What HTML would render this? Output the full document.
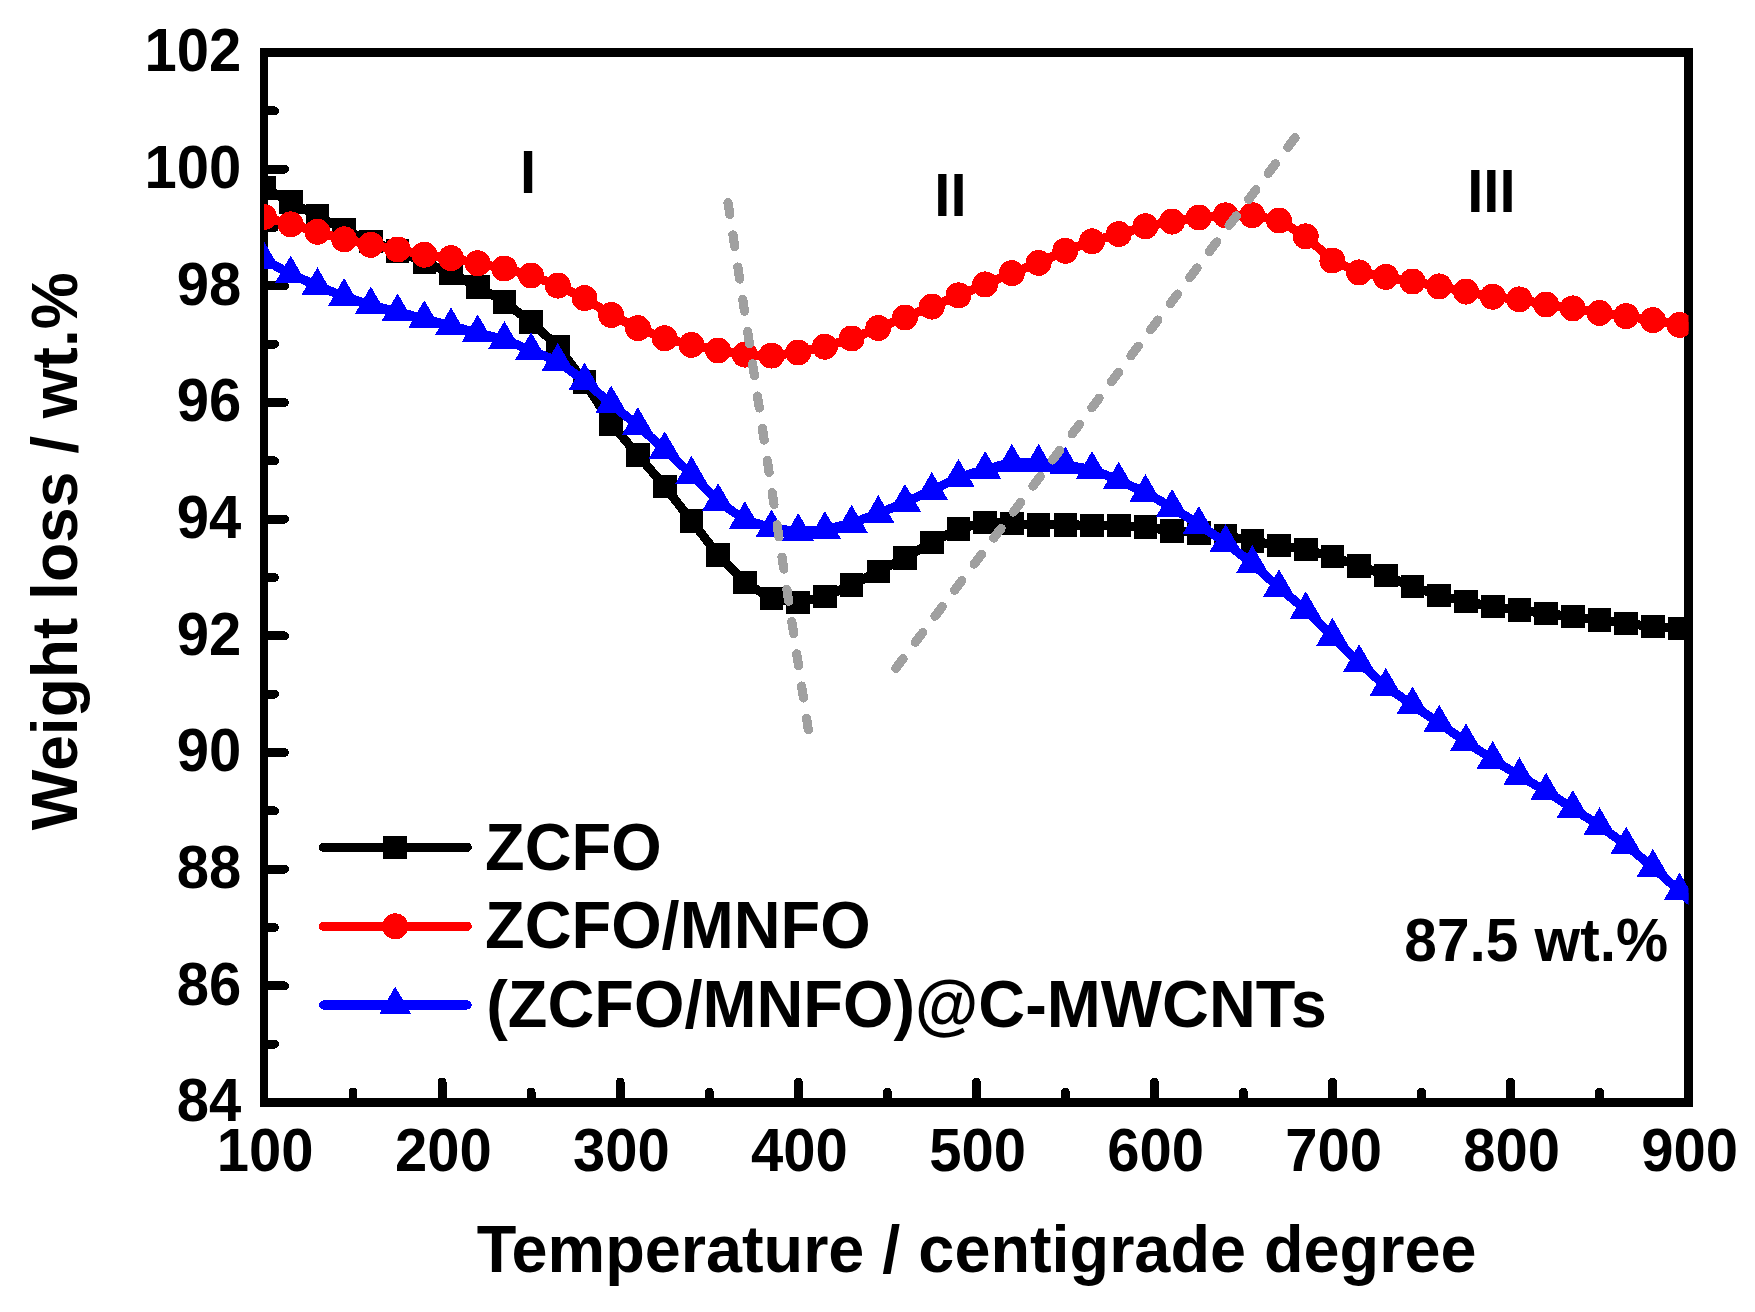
<!DOCTYPE html>
<html lang="en"><head><meta charset="utf-8"><title>TGA curves</title>
<style>html,body{margin:0;padding:0;background:#fff}body{width:1755px;height:1312px;overflow:hidden}svg{display:block}text{font-family:"Liberation Sans",sans-serif;font-weight:700;fill:#000}</style>
</head><body>
<svg shape-rendering="crispEdges" width="1755" height="1312" viewBox="0 0 1755 1312">
<rect width="1755" height="1312" fill="#fff"/>
<defs><clipPath id="pc"><rect x="264.0" y="52.5" width="1424.5" height="1050.0"/></clipPath></defs>
<rect x="264.0" y="52.5" width="1424.5" height="1050.0" fill="none" stroke="#000" stroke-width="8.6" stroke-linejoin="miter"/>
<path d="M264.0,52.50h20.5M264.0,110.83h10.5M264.0,169.17h20.5M264.0,227.50h10.5M264.0,285.83h20.5M264.0,344.17h10.5M264.0,402.50h20.5M264.0,460.83h10.5M264.0,519.17h20.5M264.0,577.50h10.5M264.0,635.83h20.5M264.0,694.17h10.5M264.0,752.50h20.5M264.0,810.83h10.5M264.0,869.17h20.5M264.0,927.50h10.5M264.0,985.83h20.5M264.0,1044.17h10.5M264.0,1102.50h20.5M264.00,1102.5v-20.5M353.03,1102.5v-10.5M442.06,1102.5v-20.5M531.09,1102.5v-10.5M620.12,1102.5v-20.5M709.16,1102.5v-10.5M798.19,1102.5v-20.5M887.22,1102.5v-10.5M976.25,1102.5v-20.5M1065.28,1102.5v-10.5M1154.31,1102.5v-20.5M1243.34,1102.5v-10.5M1332.38,1102.5v-20.5M1421.41,1102.5v-10.5M1510.44,1102.5v-20.5M1599.47,1102.5v-10.5M1688.50,1102.5v-20.5" stroke="#000" stroke-width="8.9" stroke-linecap="round" fill="none"/>
<g font-size="58" text-anchor="end">
<text transform="translate(241.2 71.2) scale(1 1.04)">102</text>
<text transform="translate(241.2 187.9) scale(1 1.04)">100</text>
<text transform="translate(241.2 304.5) scale(1 1.04)">98</text>
<text transform="translate(241.2 421.2) scale(1 1.04)">96</text>
<text transform="translate(241.2 537.9) scale(1 1.04)">94</text>
<text transform="translate(241.2 654.5) scale(1 1.04)">92</text>
<text transform="translate(241.2 771.2) scale(1 1.04)">90</text>
<text transform="translate(241.2 887.9) scale(1 1.04)">88</text>
<text transform="translate(241.2 1004.5) scale(1 1.04)">86</text>
<text transform="translate(241.2 1121.2) scale(1 1.04)">84</text>
</g>
<g font-size="58" text-anchor="middle">
<text transform="translate(265.2 1171) scale(1 1.04)">100</text>
<text transform="translate(443.3 1171) scale(1 1.04)">200</text>
<text transform="translate(621.3 1171) scale(1 1.04)">300</text>
<text transform="translate(799.4 1171) scale(1 1.04)">400</text>
<text transform="translate(977.5 1171) scale(1 1.04)">500</text>
<text transform="translate(1155.5 1171) scale(1 1.04)">600</text>
<text transform="translate(1333.6 1171) scale(1 1.04)">700</text>
<text transform="translate(1511.6 1171) scale(1 1.04)">800</text>
<text transform="translate(1689.7 1171) scale(1 1.04)">900</text>
</g>
<text transform="translate(976.6 1272) scale(1 1.02)" font-size="64.8" text-anchor="middle">Temperature / centigrade degree</text>
<text transform="translate(77 551.2) rotate(-90) scale(1 1.02)" font-size="64.1" text-anchor="middle">Weight loss / wt.%</text>
<g clip-path="url(#pc)">
<polyline points="264.0,187.8 290.7,202.2 317.4,215.6 344.1,230.0 370.8,241.3 397.6,250.8 424.3,261.9 451.0,273.2 477.7,286.8 504.4,302.0 531.1,322.0 557.8,346.3 584.5,381.7 611.2,423.8 637.9,455.0 664.7,486.4 691.4,520.7 718.1,554.9 744.8,582.4 771.5,598.5 798.2,602.6 824.9,596.4 851.6,585.1 878.3,571.5 905.0,557.7 931.8,542.5 958.5,528.7 985.2,522.5 1011.9,523.5 1038.6,525.0 1065.3,524.7 1092.0,525.4 1118.7,525.4 1145.4,527.0 1172.1,530.9 1198.8,532.8 1225.6,535.7 1252.3,540.8 1279.0,545.5 1305.7,549.6 1332.4,556.6 1359.1,565.7 1385.8,575.5 1412.5,586.6 1439.2,595.5 1466.0,601.5 1492.7,606.6 1519.4,610.1 1546.1,613.6 1572.8,616.5 1599.5,620.0 1626.2,623.5 1652.9,626.6 1679.6,628.4 1706.3,630.0" fill="none" stroke="#000" stroke-width="9.1" stroke-linejoin="round"/>
<path fill="#000" d="M252.2,176.0h23.6v23.6h-23.6zM278.9,190.4h23.6v23.6h-23.6zM305.6,203.8h23.6v23.6h-23.6zM332.3,218.2h23.6v23.6h-23.6zM359.0,229.5h23.6v23.6h-23.6zM385.8,239.0h23.6v23.6h-23.6zM412.5,250.1h23.6v23.6h-23.6zM439.2,261.4h23.6v23.6h-23.6zM465.9,275.0h23.6v23.6h-23.6zM492.6,290.2h23.6v23.6h-23.6zM519.3,310.2h23.6v23.6h-23.6zM546.0,334.5h23.6v23.6h-23.6zM572.7,369.9h23.6v23.6h-23.6zM599.4,412.0h23.6v23.6h-23.6zM626.1,443.2h23.6v23.6h-23.6zM652.9,474.6h23.6v23.6h-23.6zM679.6,508.9h23.6v23.6h-23.6zM706.3,543.1h23.6v23.6h-23.6zM733.0,570.6h23.6v23.6h-23.6zM759.7,586.7h23.6v23.6h-23.6zM786.4,590.8h23.6v23.6h-23.6zM813.1,584.6h23.6v23.6h-23.6zM839.8,573.3h23.6v23.6h-23.6zM866.5,559.7h23.6v23.6h-23.6zM893.2,545.9h23.6v23.6h-23.6zM920.0,530.7h23.6v23.6h-23.6zM946.7,516.9h23.6v23.6h-23.6zM973.4,510.7h23.6v23.6h-23.6zM1000.1,511.7h23.6v23.6h-23.6zM1026.8,513.2h23.6v23.6h-23.6zM1053.5,512.9h23.6v23.6h-23.6zM1080.2,513.6h23.6v23.6h-23.6zM1106.9,513.6h23.6v23.6h-23.6zM1133.6,515.2h23.6v23.6h-23.6zM1160.3,519.1h23.6v23.6h-23.6zM1187.0,521.0h23.6v23.6h-23.6zM1213.8,523.9h23.6v23.6h-23.6zM1240.5,529.0h23.6v23.6h-23.6zM1267.2,533.7h23.6v23.6h-23.6zM1293.9,537.8h23.6v23.6h-23.6zM1320.6,544.8h23.6v23.6h-23.6zM1347.3,553.9h23.6v23.6h-23.6zM1374.0,563.7h23.6v23.6h-23.6zM1400.7,574.8h23.6v23.6h-23.6zM1427.4,583.7h23.6v23.6h-23.6zM1454.2,589.7h23.6v23.6h-23.6zM1480.9,594.8h23.6v23.6h-23.6zM1507.6,598.3h23.6v23.6h-23.6zM1534.3,601.8h23.6v23.6h-23.6zM1561.0,604.7h23.6v23.6h-23.6zM1587.7,608.2h23.6v23.6h-23.6zM1614.4,611.7h23.6v23.6h-23.6zM1641.1,614.8h23.6v23.6h-23.6zM1667.8,616.6h23.6v23.6h-23.6zM1694.5,618.2h23.6v23.6h-23.6z"/>
<polyline points="264.0,217.0 290.7,224.4 317.4,231.8 344.1,239.3 370.8,244.8 397.6,249.5 424.3,254.7 451.0,258.2 477.7,263.3 504.4,268.5 531.1,275.5 557.8,285.6 584.5,298.1 611.2,315.0 637.9,328.2 664.7,338.3 691.4,344.9 718.1,350.5 744.8,354.6 771.5,355.6 798.2,352.5 824.9,346.7 851.6,338.5 878.3,328.0 905.0,317.5 931.8,306.6 958.5,295.4 985.2,284.4 1011.9,273.2 1038.6,262.9 1065.3,250.8 1092.0,241.3 1118.7,234.1 1145.4,226.3 1172.1,221.6 1198.8,217.5 1225.6,215.4 1252.3,215.2 1279.0,220.5 1305.7,236.4 1332.4,260.5 1359.1,272.4 1385.8,276.9 1412.5,281.5 1439.2,286.4 1466.0,291.6 1492.7,296.7 1519.4,299.4 1546.1,304.5 1572.8,308.4 1599.5,313.0 1626.2,316.1 1652.9,320.2 1679.6,324.9 1706.3,329.0" fill="none" stroke="#f00" stroke-width="9.1" stroke-linejoin="round"/>
<g fill="#f00"><circle cx="264.0" cy="217.0" r="13.0"/><circle cx="290.7" cy="224.4" r="13.0"/><circle cx="317.4" cy="231.8" r="13.0"/><circle cx="344.1" cy="239.3" r="13.0"/><circle cx="370.8" cy="244.8" r="13.0"/><circle cx="397.6" cy="249.5" r="13.0"/><circle cx="424.3" cy="254.7" r="13.0"/><circle cx="451.0" cy="258.2" r="13.0"/><circle cx="477.7" cy="263.3" r="13.0"/><circle cx="504.4" cy="268.5" r="13.0"/><circle cx="531.1" cy="275.5" r="13.0"/><circle cx="557.8" cy="285.6" r="13.0"/><circle cx="584.5" cy="298.1" r="13.0"/><circle cx="611.2" cy="315.0" r="13.0"/><circle cx="637.9" cy="328.2" r="13.0"/><circle cx="664.7" cy="338.3" r="13.0"/><circle cx="691.4" cy="344.9" r="13.0"/><circle cx="718.1" cy="350.5" r="13.0"/><circle cx="744.8" cy="354.6" r="13.0"/><circle cx="771.5" cy="355.6" r="13.0"/><circle cx="798.2" cy="352.5" r="13.0"/><circle cx="824.9" cy="346.7" r="13.0"/><circle cx="851.6" cy="338.5" r="13.0"/><circle cx="878.3" cy="328.0" r="13.0"/><circle cx="905.0" cy="317.5" r="13.0"/><circle cx="931.8" cy="306.6" r="13.0"/><circle cx="958.5" cy="295.4" r="13.0"/><circle cx="985.2" cy="284.4" r="13.0"/><circle cx="1011.9" cy="273.2" r="13.0"/><circle cx="1038.6" cy="262.9" r="13.0"/><circle cx="1065.3" cy="250.8" r="13.0"/><circle cx="1092.0" cy="241.3" r="13.0"/><circle cx="1118.7" cy="234.1" r="13.0"/><circle cx="1145.4" cy="226.3" r="13.0"/><circle cx="1172.1" cy="221.6" r="13.0"/><circle cx="1198.8" cy="217.5" r="13.0"/><circle cx="1225.6" cy="215.4" r="13.0"/><circle cx="1252.3" cy="215.2" r="13.0"/><circle cx="1279.0" cy="220.5" r="13.0"/><circle cx="1305.7" cy="236.4" r="13.0"/><circle cx="1332.4" cy="260.5" r="13.0"/><circle cx="1359.1" cy="272.4" r="13.0"/><circle cx="1385.8" cy="276.9" r="13.0"/><circle cx="1412.5" cy="281.5" r="13.0"/><circle cx="1439.2" cy="286.4" r="13.0"/><circle cx="1466.0" cy="291.6" r="13.0"/><circle cx="1492.7" cy="296.7" r="13.0"/><circle cx="1519.4" cy="299.4" r="13.0"/><circle cx="1546.1" cy="304.5" r="13.0"/><circle cx="1572.8" cy="308.4" r="13.0"/><circle cx="1599.5" cy="313.0" r="13.0"/><circle cx="1626.2" cy="316.1" r="13.0"/><circle cx="1652.9" cy="320.2" r="13.0"/><circle cx="1679.6" cy="324.9" r="13.0"/><circle cx="1706.3" cy="329.0" r="13.0"/></g>
<polyline points="264.0,259.8 290.7,274.0 317.4,285.8 344.1,296.5 370.8,304.9 397.6,311.9 424.3,318.7 451.0,325.9 477.7,332.9 504.4,339.5 531.1,350.6 557.8,361.3 584.5,381.0 611.2,404.0 637.9,425.6 664.7,449.7 691.4,474.3 718.1,501.6 744.8,519.6 771.5,528.0 798.2,531.5 824.9,529.5 851.6,523.3 878.3,513.6 905.0,502.4 931.8,490.4 958.5,477.4 985.2,469.5 1011.9,462.3 1038.6,462.3 1065.3,464.8 1092.0,469.5 1118.7,480.2 1145.4,492.6 1172.1,507.4 1198.8,524.5 1225.6,542.6 1252.3,563.6 1279.0,587.7 1305.7,609.8 1332.4,636.3 1359.1,662.6 1385.8,686.3 1412.5,705.0 1439.2,723.1 1466.0,741.8 1492.7,759.4 1519.4,775.7 1546.1,791.2 1572.8,808.5 1599.5,825.7 1626.2,845.1 1652.9,867.3 1679.6,891.1 1706.3,915.5" fill="none" stroke="#00f" stroke-width="9.1" stroke-linejoin="round"/>
<path fill="#00f" d="M264.0,241.3L280.0,269.0L248.0,269.0ZM290.7,255.5L306.7,283.2L274.7,283.2ZM317.4,267.3L333.4,295.0L301.4,295.0ZM344.1,278.0L360.1,305.7L328.1,305.7ZM370.8,286.4L386.8,314.1L354.8,314.1ZM397.6,293.4L413.6,321.1L381.6,321.1ZM424.3,300.2L440.3,327.9L408.3,327.9ZM451.0,307.4L467.0,335.1L435.0,335.1ZM477.7,314.4L493.7,342.1L461.7,342.1ZM504.4,321.0L520.4,348.7L488.4,348.7ZM531.1,332.1L547.1,359.8L515.1,359.8ZM557.8,342.8L573.8,370.5L541.8,370.5ZM584.5,362.5L600.5,390.2L568.5,390.2ZM611.2,385.5L627.2,413.2L595.2,413.2ZM637.9,407.1L653.9,434.8L621.9,434.8ZM664.7,431.2L680.7,458.9L648.7,458.9ZM691.4,455.8L707.4,483.5L675.4,483.5ZM718.1,483.1L734.1,510.8L702.1,510.8ZM744.8,501.1L760.8,528.8L728.8,528.8ZM771.5,509.5L787.5,537.2L755.5,537.2ZM798.2,513.0L814.2,540.7L782.2,540.7ZM824.9,511.0L840.9,538.7L808.9,538.7ZM851.6,504.8L867.6,532.5L835.6,532.5ZM878.3,495.1L894.3,522.8L862.3,522.8ZM905.0,483.9L921.0,511.6L889.0,511.6ZM931.8,471.9L947.8,499.6L915.8,499.6ZM958.5,458.9L974.5,486.6L942.5,486.6ZM985.2,451.0L1001.2,478.7L969.2,478.7ZM1011.9,443.8L1027.9,471.5L995.9,471.5ZM1038.6,443.8L1054.6,471.5L1022.6,471.5ZM1065.3,446.3L1081.3,474.0L1049.3,474.0ZM1092.0,451.0L1108.0,478.7L1076.0,478.7ZM1118.7,461.7L1134.7,489.4L1102.7,489.4ZM1145.4,474.1L1161.4,501.8L1129.4,501.8ZM1172.1,488.9L1188.1,516.6L1156.1,516.6ZM1198.8,506.0L1214.8,533.7L1182.8,533.7ZM1225.6,524.1L1241.6,551.8L1209.6,551.8ZM1252.3,545.1L1268.3,572.8L1236.3,572.8ZM1279.0,569.2L1295.0,596.9L1263.0,596.9ZM1305.7,591.3L1321.7,619.0L1289.7,619.0ZM1332.4,617.8L1348.4,645.5L1316.4,645.5ZM1359.1,644.1L1375.1,671.8L1343.1,671.8ZM1385.8,667.8L1401.8,695.5L1369.8,695.5ZM1412.5,686.5L1428.5,714.2L1396.5,714.2ZM1439.2,704.6L1455.2,732.3L1423.2,732.3ZM1466.0,723.3L1482.0,751.0L1450.0,751.0ZM1492.7,740.9L1508.7,768.6L1476.7,768.6ZM1519.4,757.2L1535.4,784.9L1503.4,784.9ZM1546.1,772.7L1562.1,800.4L1530.1,800.4ZM1572.8,790.0L1588.8,817.7L1556.8,817.7ZM1599.5,807.2L1615.5,834.9L1583.5,834.9ZM1626.2,826.6L1642.2,854.3L1610.2,854.3ZM1652.9,848.8L1668.9,876.5L1636.9,876.5ZM1679.6,872.6L1695.6,900.3L1663.6,900.3ZM1706.3,897.0L1722.3,924.7L1690.3,924.7Z"/>
</g>
<g stroke="#a0a0a0" stroke-width="9.2" stroke-linecap="round" stroke-dasharray="12.1 20.5" fill="none">
<line x1="728" y1="202.6" x2="808.3" y2="729.8"/>
<line x1="1295.1" y1="137.7" x2="895.3" y2="669"/>
</g>
<g font-size="58">
<text transform="translate(520 192.9) scale(1 1.04)">I</text>
<text transform="translate(934.3 215.7) scale(1 1.04)">II</text>
<text transform="translate(1467.2 211.9) scale(1 1.04)">III</text>
<text transform="translate(1404.3 961.1) scale(1 1.04)" font-size="58.6">87.5 wt.%</text>
</g>
<line x1="323.4" y1="847.3" x2="467.2" y2="847.3" stroke="#000" stroke-width="9.1" stroke-linecap="round"/>
<rect x="383.4" y="835.5" width="23.6" height="23.6" fill="#000"/>
<text transform="translate(485.0 869.6) scale(1 1.025)" font-size="64.9">ZCFO</text>
<line x1="323.4" y1="926.3" x2="467.2" y2="926.3" stroke="#f00" stroke-width="9.1" stroke-linecap="round"/>
<circle cx="395.2" cy="926.3" r="13.0" fill="#f00"/>
<text transform="translate(485.0 948.4) scale(1 1.025)" font-size="64.9">ZCFO/MNFO</text>
<line x1="323.4" y1="1005.0" x2="467.2" y2="1005.0" stroke="#00f" stroke-width="9.1" stroke-linecap="round"/>
<path d="M395.2,986.5L411.2,1014.2L379.2,1014.2Z" fill="#00f"/>
<text transform="translate(486.2 1027.2) scale(1 1.025)" font-size="64.9">(ZCFO/MNFO)@C-MWCNTs</text>
</svg></body></html>
